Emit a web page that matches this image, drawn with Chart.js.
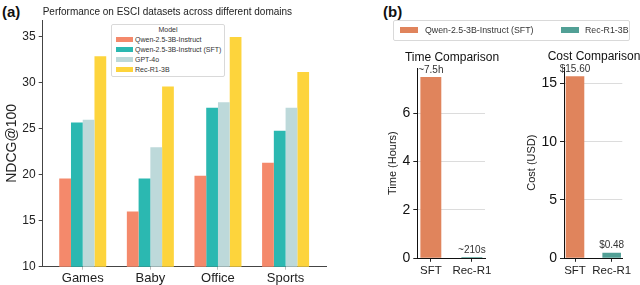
<!DOCTYPE html>
<html>
<head>
<meta charset="utf-8">
<script src="https://cdn.jsdelivr.net/npm/chart.js@4.4.1/dist/chart.umd.min.js"></script>
<style>
  body { margin: 0; background: #fff; font-family: "Liberation Sans", Arial, sans-serif; }
  #wrap { position: relative; width: 640px; height: 285px; overflow: hidden; }
  #wrap canvas { position: absolute; top: 0; }
  .tag { position: absolute; font-weight: bold; font-size: 15px; color: #111; line-height: 18px; }
  .sub { position: absolute; font-size: 12px; line-height: 14px; color: #111; white-space: nowrap; transform: translateX(-50%); }
  .legend { position: absolute; border: 1px solid #d9d9d9; border-radius: 2px; background: #fff; box-sizing: border-box; color: #333; }
  .legend .ttl { position: absolute; left: 0; right: 0; text-align: center; font-size: 7px; line-height: 8px; }
  .legend .sw { position: absolute; }
  .legend .txt { position: absolute; white-space: nowrap; }
</style>
</head>
<body>
<div id="wrap">
  <div class="tag" style="left:2px;top:3px;">(a)</div>
  <div class="tag" style="left:383px;top:3px;">(b)</div>
  <canvas id="chartA" width="335" height="285" style="left:0px;"></canvas>
  <canvas id="chartTime" width="125" height="285" style="left:380px;"></canvas>
  <canvas id="chartCost" width="130" height="285" style="left:510px;"></canvas>
  <div class="sub" style="left:452px;top:50px;">Time Comparison</div>
  <div class="sub" style="left:594px;top:49px;">Cost Comparison</div>
  <div class="legend" id="legendA" style="left:111px;top:24px;width:114px;height:53px;"></div>
  <div class="legend" id="legendB" style="left:393px;top:20px;width:237px;height:21px;"></div>
</div>
<script>
// (a) NDCG@100 per domain
var domains = ['Games', 'Baby', 'Office', 'Sports'];
var models = ['Qwen-2.5-3B-Instruct', 'Qwen-2.5-3B-Instruct (SFT)', 'GPT-4o', 'Rec-R1-3B'];
var qwenBase = [19.6, 16.0, 19.9, 21.3];
var qwenSft = [25.7, 19.6, 27.3, 24.8];
var gpt4o = [26.0, 23.0, 27.9, 27.3];
var recR1 = [32.9, 29.6, 35.0, 31.2];
var ticksA = [10, 15, 20, 25, 30, 35];

// (b) training time / cost
var methods = ['SFT', 'Rec-R1'];
var legendNames = ['Qwen-2.5-3B-Instruct (SFT)', 'Rec-R1-3B'];
var timeHours = [7.5, 0.058];
var timeLabels = ['~7.5h', '~210s'];
var costUsd = [15.60, 0.48];
var costLabels = ['$15.60', '$0.48'];
var ticksTime = [0, 2, 4, 6];
var ticksCost = [0, 5, 10, 15];

var colorsA = ['#F4896B', '#2BB8B1', '#BDD9DA', '#FDD43C'];
var colorsB = ['#E0845C', '#52A096'];
var FONT = '"Liberation Sans", Arial, sans-serif';

function keepTicks(list) {
  return function (scale) {
    scale.ticks = scale.ticks.filter(function (t) { return list.indexOf(t.value) !== -1; });
  };
}
// matplotlib style margins on the category axis
function catRange(start, range) {
  return function (scale) { scale._startValue = start; scale._valueRange = range; };
}
function fixW(w) { return function (scale) { scale.width = w; }; }
function fixH(h) { return function (scale) { scale.height = h; }; }

var barValueLabels = {
  id: 'barValueLabels',
  afterDatasetsDraw: function (chart, args, opts) {
    var labels = opts.labels;
    if (!labels) return;
    var ctx = chart.ctx;
    ctx.save();
    ctx.font = '10px ' + FONT;
    ctx.fillStyle = '#333';
    ctx.textAlign = 'center';
    ctx.textBaseline = 'bottom';
    chart.getDatasetMeta(0).data.forEach(function (bar, i) {
      ctx.fillText(labels[i], bar.x, bar.y - 2);
    });
    ctx.restore();
  }
};

// ---------- (a)
var dataA = [qwenBase, qwenSft, gpt4o, recR1];
new Chart(document.getElementById('chartA'), {
  type: 'bar',
  data: {
    labels: domains,
    datasets: models.map(function (m, i) {
      return { label: m, data: dataA[i], backgroundColor: colorsA[i], borderWidth: 0 };
    })
  },
  options: {
    responsive: false,
    animation: false,
    layout: { padding: { left: 0, right: 8.3, top: 0, bottom: 0 } },
    datasets: { bar: { categoryPercentage: 0.695, barPercentage: 1 } },
    plugins: {
      legend: { display: false },
      tooltip: { enabled: false },
      title: {
        display: true,
        text: 'Performance on ESCI datasets across different domains',
        fullSize: false,
        align: 'start',
        color: '#222',
        font: { family: FONT, size: 10, weight: 'normal' },
        padding: { top: 6, bottom: 2 }
      }
    },
    scales: {
      x: {
        afterBuildTicks: catRange(-0.592, 4.2),
        afterFit: fixH(18.3),
        grid: { display: true, drawOnChartArea: false, offset: false, tickLength: 3, color: '#bbb' },
        border: { color: '#444', width: 1 },
        ticks: { color: '#222', font: { family: FONT, size: 13 }, padding: 1, maxRotation: 0, autoSkip: false }
      },
      y: {
        min: 10,
        max: 36.85,
        afterBuildTicks: keepTicks(ticksA),
        afterFit: fixW(42.7),
        grid: { display: true, drawOnChartArea: false, tickLength: 4, color: '#444' },
        border: { color: '#444', width: 1 },
        ticks: { stepSize: 5, color: '#222', font: { family: FONT, size: 12 }, padding: 3 },
        title: { display: true, text: 'NDCG@100', color: '#222', font: { family: FONT, size: 14 }, padding: { top: 4, bottom: 0 } }
      }
    }
  }
});

// ---------- (b) shared builder
function smallChart(id, values, labels, yMax, tickList, step, yTitle, opt) {
  return new Chart(document.getElementById(id), {
    type: 'bar',
    data: {
      labels: methods,
      datasets: [{ label: yTitle, data: values, backgroundColor: colorsB, borderWidth: 0 }]
    },
    plugins: [barValueLabels],
    options: {
      responsive: false,
      animation: false,
      layout: { padding: { left: 0, right: opt.padRight, top: opt.top, bottom: 0 } },
      datasets: { bar: { categoryPercentage: opt.catPct, barPercentage: 1 } },
      plugins: {
        legend: { display: false },
        tooltip: { enabled: false },
        barValueLabels: { labels: labels }
      },
      scales: {
        x: {
          afterBuildTicks: catRange(opt.start, opt.range),
          afterFit: fixH(26.7),
          grid: { display: true, drawOnChartArea: false, offset: false, tickLength: 3.5, color: '#222' },
          border: { color: '#111', width: 1 },
          ticks: { color: '#222', font: { family: FONT, size: 11.5 }, padding: 2, maxRotation: 0, minRotation: 0, autoSkip: false }
        },
        y: {
          min: 0,
          max: yMax,
          afterBuildTicks: keepTicks(tickList),
          afterFit: fixW(opt.yWidth),
          grid: { display: true, color: '#dcdcdc', borderDash: [3, 3], tickBorderDash: [], tickColor: '#222', tickLength: 4 },
          border: { color: '#111', width: 1 },
          ticks: { stepSize: step, color: '#111', font: { family: FONT, size: 14 }, padding: 3 },
          title: { display: true, text: yTitle, color: '#222', font: { family: FONT, size: 11 }, padding: { top: opt.yTitlePad, bottom: 0 } }
        }
      }
    }
  });
}

smallChart('chartTime', timeHours, timeLabels, 7.875, ticksTime, 2, 'Time (Hours)', {
  top: 68, padRight: 20, yWidth: 37.3, catPct: 0.51,
  start: -0.33, range: 1.65, yTitlePad: 6.4
});
smallChart('chartCost', costUsd, costLabels, 16.4, ticksCost, 5, 'Cost (USD)', {
  top: 67, padRight: 17.7, yWidth: 54, catPct: 0.507,
  start: -0.30, range: 1.59, yTitlePad: 15.1
});

// ---------- legends
(function () {
  var box = document.getElementById('legendA');
  var t = document.createElement('div');
  t.className = 'ttl'; t.style.top = '1px'; t.textContent = 'Model';
  box.appendChild(t);
  models.forEach(function (m, i) {
    var cy = 15.3 + i * 10;
    var sw = document.createElement('div');
    sw.className = 'sw';
    sw.style.cssText = 'left:4px;top:' + (cy - 3.5) + 'px;width:17px;height:5px;background:' + colorsA[i] + ';';
    var tx = document.createElement('div');
    tx.className = 'txt';
    tx.style.cssText = 'left:23px;top:' + (cy - 5) + 'px;font-size:7px;line-height:9px;';
    tx.textContent = m;
    box.appendChild(sw); box.appendChild(tx);
  });
  var boxB = document.getElementById('legendB');
  var swLeft = [6, 167], txLeft = [31, 191];
  legendNames.forEach(function (m, i) {
    var sw = document.createElement('div');
    sw.className = 'sw';
    sw.style.cssText = 'left:' + swLeft[i] + 'px;top:6px;width:18px;height:6px;background:' + colorsB[i] + ';';
    var tx = document.createElement('div');
    tx.className = 'txt';
    tx.style.cssText = 'left:' + txLeft[i] + 'px;top:3px;font-size:8.8px;line-height:12px;';
    tx.textContent = m;
    boxB.appendChild(sw); boxB.appendChild(tx);
  });
})();
</script>
</body>
</html>
